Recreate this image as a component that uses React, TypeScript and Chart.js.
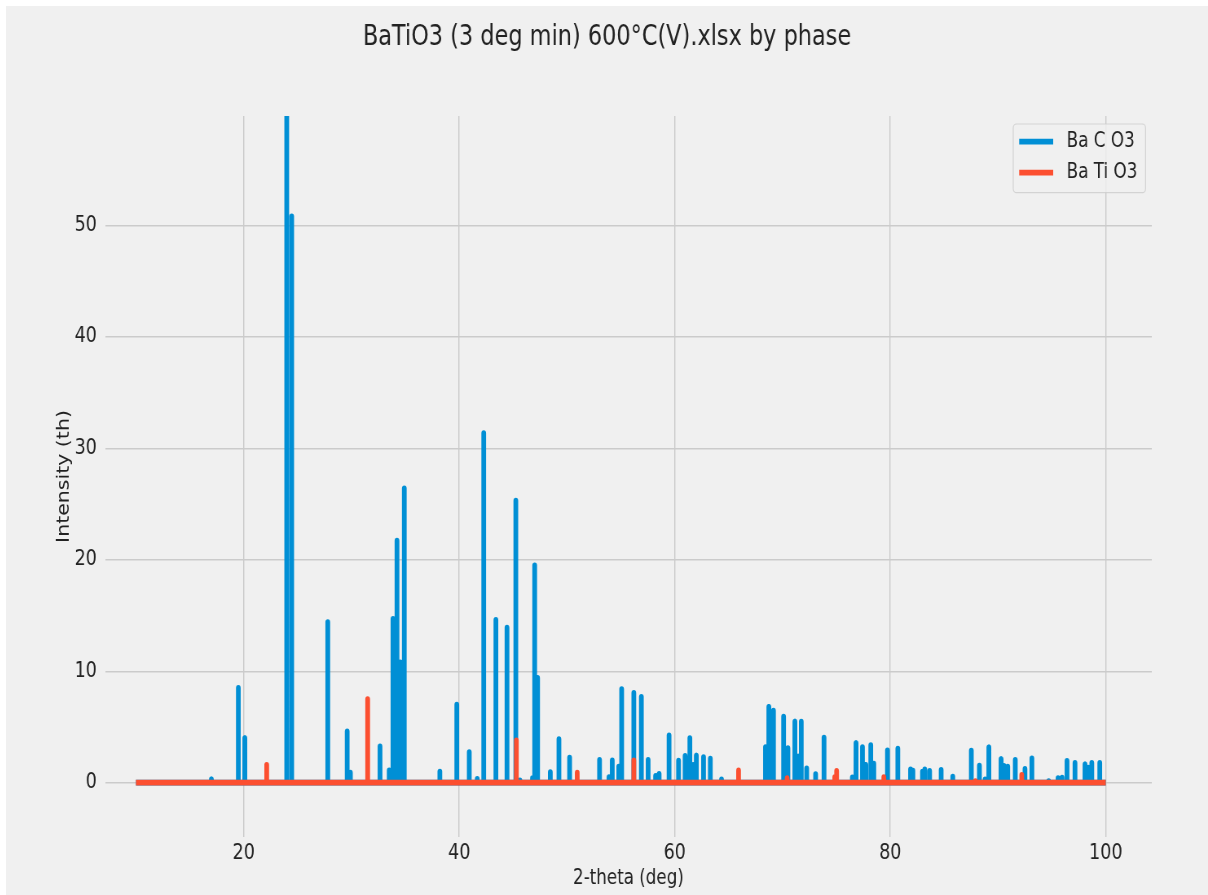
import { useEffect, useRef } from "react";
import { Chart, registerables } from "chart.js";

Chart.register(...registerables);

// Figure text
const figureTitle = "BaTiO3 (3 deg min) 600°C(V).xlsx by phase";
const xAxisTitle = "2-theta (deg)";
const yAxisTitle = "Intensity (th)";
const phaseNames = ["Ba C O3", "Ba Ti O3"];
const phaseColors = ["#008fd5", "#fc4f30"];

// Scan range and axis ticks
const scanRange = [10, 100];
const xTicks = [20, 40, 60, 80, 100];
const yTicks = [0, 10, 20, 30, 40, 50];

// Ba C O3 reflections: 2-theta positions (deg) and theoretical intensities
const bacoPositions = [
  17.0, 19.5, 20.1, 23.99, 24.45, 27.8, 29.6, 29.9, 32.65, 33.5, 33.85, 34.22,
  34.53, 34.9, 38.2, 39.77, 40.93, 41.67, 42.27, 43.4, 44.43, 45.25, 45.63,
  46.8, 47.0, 47.27, 48.45, 49.25, 50.24, 53.02, 53.9, 54.2, 54.8, 55.07, 56.2,
  56.9, 57.53, 58.22, 58.55, 59.47, 60.35, 60.96, 61.4, 61.7, 62.0, 62.67,
  63.3, 64.34, 68.42, 68.73, 69.16, 70.1, 70.5, 71.15, 71.45, 71.74, 72.24,
  73.07, 73.85, 76.48, 76.82, 77.42, 77.73, 78.19, 78.47, 79.74, 80.7, 81.88,
  82.1, 82.99, 83.2, 83.65, 84.72, 85.8, 87.52, 88.27, 88.8, 89.15, 90.28,
  90.55, 90.9, 91.6, 92.5, 93.14, 94.7, 95.57, 95.94, 96.4, 97.14, 98.07,
  98.38, 98.7, 99.44,
];
const bacoIntensities = [
  0.3, 8.5, 4.0, 100, 50.8, 14.4, 4.6, 0.9, 3.25, 1.1, 14.7, 21.7,
  10.8, 26.4, 1.0, 7.0, 2.75, 0.35, 31.35, 14.6, 13.9, 25.3, 0.2,
  0.4, 19.5, 9.4, 0.95, 3.9, 2.25, 2.05, 0.5, 2.0, 1.45, 8.4, 8.05,
  7.7, 2.05, 0.6, 0.8, 4.25, 1.97, 2.4, 4.0, 1.6, 2.42, 2.3,
  2.15, 0.3, 3.2, 6.8, 6.46, 5.92, 3.1, 5.47, 2.33, 5.47, 1.29,
  0.77, 4.05, 0.48, 3.55, 3.2, 1.59, 3.36, 1.7, 2.9, 3.05, 1.2,
  1.08, 1.0, 1.2, 1.05, 1.14, 0.55, 2.88, 1.52, 0.3, 3.17, 2.12,
  1.5, 1.45, 2.04, 1.23, 2.19, 0.15, 0.4, 0.45, 1.95, 1.77, 1.65,
  1.35, 1.77, 1.77,
];

// Ba Ti O3 reflections
const batioPositions = [
  22.13, 31.5, 45.3, 50.95, 56.2, 65.92, 70.43, 74.85, 75.02, 79.4, 87.9, 92.2,
];
const batioIntensities = [
  1.6, 7.5, 3.8, 0.9, 2.0, 1.1, 0.4, 0.5, 1.05, 0.5, 0.15, 0.7,
];

// Axis limits
const xLimits = [7.13, 104.27];
const yLimits = [-4.87, 59.8];

// Canvas geometry: drawn wide, then shown narrower
const CANVAS_W = 1475;
const CANVAS_H = 889;
const SHOWN_W = 1202;
const AREA = { left: 121.5, right: 1406, top: 110, bottom: 831 };

const FONT = "'DejaVu Sans', sans-serif";
const TEXT = "#222222";
const BG = "#f0f0f0";
const LINE_W = 5.8;

type Pt = { x: number; y: number };

function stickPattern(positions: number[], intensities: number[]): Pt[] {
  const half = 0.005;
  const pts: Pt[] = [{ x: scanRange[0], y: 0 }];
  positions.forEach((p, i) => {
    pts.push({ x: p - half, y: 0 }, { x: p, y: intensities[i] }, { x: p + half, y: 0 });
  });
  pts.push({ x: scanRange[1], y: 0 });
  return pts;
}

const figureDecor = {
  id: "figureDecor",
  beforeDraw(chart: Chart) {
    const ctx = chart.ctx;
    ctx.save();
    ctx.fillStyle = BG;
    ctx.fillRect(0, 0, chart.width, chart.height);
    ctx.restore();
  },
  afterDraw(chart: Chart) {
    const ctx = chart.ctx;
    const area = chart.chartArea;
    ctx.save();

    // title
    ctx.fillStyle = TEXT;
    ctx.font = `27.5px ${FONT}`;
    ctx.textAlign = "center";
    ctx.textBaseline = "alphabetic";
    ctx.fillText(figureTitle, chart.width / 2, 39);

    // axis titles
    ctx.font = `20.5px ${FONT}`;
    ctx.textBaseline = "middle";
    ctx.fillText(xAxisTitle, (area.left + area.right) / 2, 872.5);
    ctx.save();
    ctx.translate(71.4, (area.top + area.bottom) / 2);
    ctx.rotate(-Math.PI / 2);
    ctx.fillText(yAxisTitle, 0, 0);
    ctx.restore();

    // legend
    const bx = 1236, by = 118, bw = 162.4, bh = 68.7, r = 4;
    ctx.beginPath();
    ctx.roundRect(bx, by, bw, bh, r);
    ctx.fillStyle = "rgba(240,240,240,0.8)";
    ctx.fill();
    ctx.lineWidth = 1.2;
    ctx.strokeStyle = "rgba(204,204,204,0.8)";
    ctx.stroke();

    const rows = [135.7, 166.7];
    phaseNames.forEach((name, i) => {
      ctx.beginPath();
      ctx.moveTo(1243.3, rows[i]);
      ctx.lineTo(1285, rows[i]);
      ctx.lineWidth = LINE_W;
      ctx.lineCap = "butt";
      ctx.strokeStyle = phaseColors[i];
      ctx.stroke();
      ctx.fillStyle = TEXT;
      ctx.font = `20.6px ${FONT}`;
      ctx.textAlign = "left";
      ctx.textBaseline = "middle";
      ctx.fillText(name, 1301.5, rows[i] - 0.5);
    });

    ctx.restore();
  },
};

export default function App() {
  const canvasRef = useRef<HTMLCanvasElement>(null);

  useEffect(() => {
    const canvas = canvasRef.current;
    if (!canvas) return;

    const tickFont = { family: FONT, size: 21.5 };

    const chart = new Chart(canvas, {
      type: "line",
      data: {
        datasets: [
          {
            label: phaseNames[1],
            data: stickPattern(batioPositions, batioIntensities),
            borderColor: phaseColors[1],
            backgroundColor: phaseColors[1],
            order: 0,
            clip: 0,
          },
          {
            label: phaseNames[0],
            data: stickPattern(bacoPositions, bacoIntensities),
            borderColor: phaseColors[0],
            backgroundColor: phaseColors[0],
            order: 1,
            clip: 0,
          },
        ],
      },
      options: {
        responsive: false,
        animation: false,
        devicePixelRatio: 1,
        events: [],
        layout: {
          padding: {
            left: 0,
            right: CANVAS_W - AREA.right,
            top: AREA.top,
            bottom: 0,
          },
        },
        elements: {
          point: { radius: 0, hoverRadius: 0 },
          line: {
            tension: 0,
            borderWidth: LINE_W,
            borderJoinStyle: "round",
            borderCapStyle: "butt",
            fill: false,
          },
        },
        plugins: {
          legend: { display: false },
          title: { display: false },
          tooltip: { enabled: false },
        },
        scales: {
          x: {
            type: "linear",
            min: xLimits[0],
            max: xLimits[1],
            afterBuildTicks: (scale: any) => {
              scale.ticks = xTicks.map((v) => ({ value: v }));
            },
            afterFit: (scale: any) => {
              scale.height = CANVAS_H - AREA.bottom;
            },
            grid: { color: "#cbcbcb", lineWidth: 1.4, drawTicks: false },
            border: { display: false },
            ticks: {
              padding: 4,
              font: tickFont,
              color: TEXT,
              maxRotation: 0,
              autoSkip: false,
            },
          },
          y: {
            type: "linear",
            min: yLimits[0],
            max: yLimits[1],
            afterBuildTicks: (scale: any) => {
              scale.ticks = yTicks.map((v) => ({ value: v }));
            },
            afterFit: (scale: any) => {
              scale.width = AREA.left;
            },
            grid: { color: "#cbcbcb", lineWidth: 1.4, drawTicks: false },
            border: { display: false },
            ticks: {
              padding: 10,
              font: tickFont,
              color: TEXT,
              autoSkip: false,
            },
          },
        },
      },
      plugins: [figureDecor],
    });

    return () => chart.destroy();
  }, []);

  return (
    <div
      style={{
        position: "absolute",
        left: 6,
        top: 6,
        width: SHOWN_W,
        height: CANVAS_H,
        background: BG,
      }}
    >
      <canvas
        ref={canvasRef}
        width={CANVAS_W}
        height={CANVAS_H}
        style={{ width: `${SHOWN_W}px`, height: `${CANVAS_H}px`, display: "block" }}
      />
    </div>
  );
}
